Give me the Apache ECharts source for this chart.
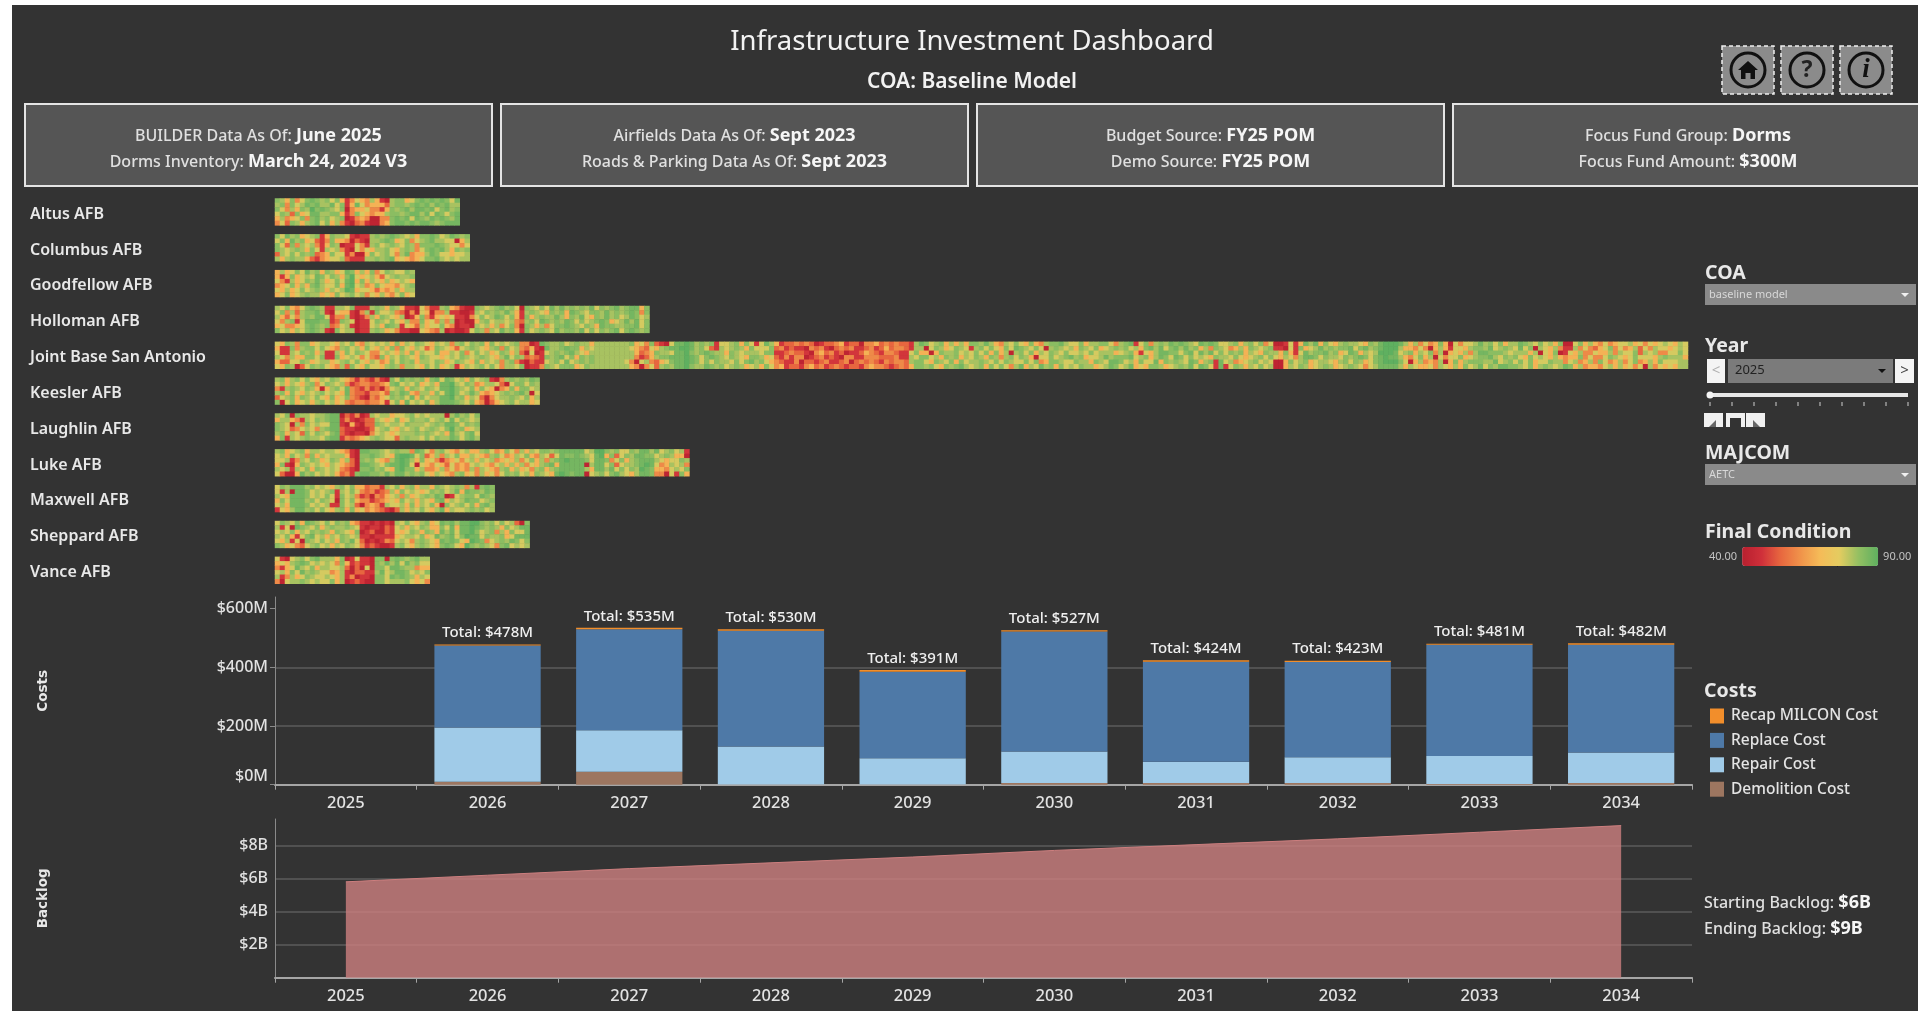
<!DOCTYPE html>
<html><head><meta charset="utf-8"><title>Infrastructure Investment Dashboard</title>
<style>html,body{margin:0;padding:0;background:#fff}#c{width:1918px;height:1011px}</style>
<script src="https://cdn.jsdelivr.net/npm/echarts@6/dist/echarts.min.js"></script></head>
<body><div id="c"></div>
<script>
// ---- data ----
const years = ['2025','2026','2027','2028','2029','2030','2031','2032','2033','2034'];
const demolitionCost = [null,10,44,1,1,6,6,6,2,6];
const repairCost = [null,185,142,129,89,107,72,88,96,104];
const replaceCost = [null,280,344,395,295,409,341,324,379,367];
const recapMilconCost = [null,3,5,5,6,5,5,5,4,5];
const totalCost = [null,478,535,530,391,527,424,423,481,482];
const backlog = [5.8,6.2,6.6,6.95,7.3,7.7,8.05,8.4,8.8,9.2];
const costTicks = [0,200,400,600];
const bases = ['Altus AFB','Columbus AFB','Goodfellow AFB','Holloman AFB','Joint Base San Antonio','Keesler AFB','Laughlin AFB','Luke AFB','Maxwell AFB','Sheppard AFB','Vance AFB'];
// per-facility Final Condition, estimated by eye: each digit is one cell, looked up in conditionKey
const conditionKey = [42,48,54,60,67,77,81,84,87,90];
const altus = [
"7647357876 7574135436 4106774578 7878758",
"6737568786 6857148534 4426776787 8687866",
"7536476978 7657034453 3147678688 7857867",
"5762745886 6774137543 4467767886 8587578",
"4634573786 7567013430 0337878587 6878768",
"3527646785 7463102310 0347887878 8767888"];
const columbus = [
"7586745671 4766510116 7678765647 787568767",
"5748674521 3744302106 6787457356 786655046",
"7527365631 4760115316 7567657637 778765535",
"7656764751 6563105354 6675467635 787864767",
"2657576723 4755130047 5675368344 687554556",
"6467664213 4556211166 7678454345 778656566"];
const goodfellow = [
"4645758674 7645874647 35765576",
"4147456587 5764795456 42567667",
"5316457686 4575894746 54645654",
"3457464786 5574895634 75443567",
"5464575676 4656984554 24346466",
"4574567664 5475675635 46435745"];
const holloman = [
"6574357876 1166571116 7647641105 3116743100 7656786750 7657586867 6768576786 78847",
"5736267786 1054410361 7556320305 4033611001 6576768641 6765476748 7657768676 78737",
"6425367688 5133610136 4765460147 3145451103 5756875741 7467668647 6854768675 68756",
"5367158887 7127650115 7657546337 4536360100 4675665632 6758767687 5756787456 86857",
"4533457876 7235610115 6487615426 4557430110 6564635730 7646357787 6576487766 77857",
"7564657876 1075660116 7645311005 4326010015 7636586741 7567658677 6857576785 78767"];
const jbsa = [
"5476377456 6546574365 6564746576 5465636757 6747565673 3018766756 7664666666 6745372105 8898676715 5674751586 4122323201 2234122033 4232322168 7567464647 7686436575 4743677865 5746677536 7815736768 7876587875 5674675735 0015148684 7546766547 6899986463 5347405355 6867574668 7657564700 5746435345 5645354565 465",
"4117367757 5436756475 4647375465 2476542567 6546737563 2410866787 7465666666 6543254678 8998675216 5676475557 2312110323 1023231123 1242332166 0576457651 6757547587 6575067656 4765745676 7564786857 8686746376 5346476567 1105174568 6767785786 7899964435 3046415546 7768567658 5706546311 6353245735 3462536554 565",
"5116576746 1164757653 3565464746 5574465735 7564576462 0501567678 6546666666 6642347665 8897678766 4765666577 1123221034 2312011243 2133211574 4047667565 7574746067 5746576575 5657566645 6741546887 7578586857 5767465476 6474158677 8674587465 6999856746 5736045463 6887776566 6460547015 4633544636 5572656335 575",
"6536447757 1174565353 2746576547 6554565765 6765468576 2321767857 4767666666 6631246778 8898757876 5765477645 2131330123 1210331133 3222311657 7564767465 7647636757 6405575678 6745568677 7856746875 8757565476 6575456757 5465368875 7665767875 7898864357 4605355745 6778657675 4756546434 4735335765 4575554676 664",
"4225576456 6456757546 5347576746 6576457654 7465636731 0211567585 6767666666 5305632457 8898757576 6575786754 3211302212 3112302323 2132332677 5476574756 6765757655 7573477655 7664765887 5647558476 7658746718 5634567565 0047567456 6546757645 7899975046 3436047467 7766856757 5745576635 6346375346 3573464755 566",
"5476025767 5436275475 5467636654 7574561465 6757536657 0113765777 4576666666 6430352676 8897668767 5676456475 3412213423 1232122134 3321232477 6754767865 6747575368 4658674756 5766456875 6845477645 6768587518 1576465756 0046576456 7645676535 6888864654 4536546475 6857688776 5746765687 4634435646 4535063545 466"];
const keesler = [
"6746757546 5765431321 3107586767 4785875647 5671036767 687",
"5646546735 7656312332 2347856574 5648896576 3466520577 576",
"3167657640 4675832131 2035674765 7658897657 4754034747 756",
"6747546567 5654832213 3427687436 6475897568 6434567678 605",
"2567476575 4745732103 2457675847 5668896746 5203566765 746",
"7057456467 5645323323 3415748565 7468887657 4302456756 645"];
const laughlin = [
"6570766566 7880213016 5664556756 5666068675 7",
"4664316576 7881310122 6545745766 7567585765 6",
"7650637565 5881041022 7656657666 5676887576 7",
"7652356536 7882110012 5675465675 6765796745 6",
"6746527576 5782101103 5654566676 7656486578 5",
"4716567665 7881323456 7655267665 7576687578 6"];
const luke = [
"6745674665 6654310887 7656766387 5367543564 4675347536 4657767888 8856997675 5768868567 561",
"5647563746 5666410778 7654899857 2463657446 5436753465 7436525877 8765894725 7688775676 440",
"5561365764 5764620767 5436898647 4531345356 4656345463 5746367898 8875887357 4678886545 576",
"4710476565 4654320887 6578898505 4354253435 6543564646 3546784888 8806885725 6678985346 563",
"6561657476 5653210778 6754897746 3346353436 3654367464 5367467888 8864886857 5769874435 657",
"5200486756 5642317887 7686886767 5465436745 3645357675 6476548987 8805675786 5468873305 174"];
const maxwell = [
"5768886756 5467574423 3165746746 6476567636 1787",
"5160887565 6716575323 1236475654 5767568487 7687",
"6548887565 7517563120 3245636456 7687015677 5876",
"4758886757 6507574331 2345475646 5478465687 7567",
"5648887565 6117562034 3165564746 5740756757 4786",
"1546886757 5467474534 3210264657 5468465567 6756"];
const sheppard = [
"5765748765 7576743110 1010657546 7458786889 9767575620 7",
"6150876574 6766765101 1021564657 6447584889 8767647568 8",
"5657465767 6476547012 0021545764 7648685889 7567364755 8",
"6574157856 4657656110 1111456657 4586785798 8576674588 8",
"5461507657 5647685201 0132565367 6548787549 8735676875 7",
"7645325675 6465765312 1001675467 6547875497 6765378565 6"];
const vance = [
"5105675786 6647015110 7707876786 6",
"4546787565 6537412110 7686858675 5",
"3145865746 6556202050 7758876634 4",
"5647586765 5346102211 6856887565 7",
"6136457655 6546130110 7758787646 5",
"3056676565 5746012100 7756667545 3"];
const baseCells = [altus,columbus,goodfellow,holloman,jbsa,keesler,laughlin,luke,maxwell,sheppard,vance];

// ---- chart assembly ----
const SUB = 8, COLS = 283;
const heatData = [];
baseCells.forEach((rows,b)=>rows.forEach((row,r)=>{
  row.replace(/ /g,'').split('').forEach((d,c)=>heatData.push([c,b*SUB+r,conditionKey[+d]]));
}));
const yCats = [];
bases.forEach(n=>{for(let i=0;i<SUB;i++)yCats.push(i===3?n:'')});
const xCats = Array.from({length:COLS},(_,i)=>String(i));

const F = '"Noto Sans"';
const txt = (x,y,t,size,o={})=>({type:'text',x,y,silent:true,style:Object.assign({text:t,fill:'#e8e8e8',font:`${o.w||400} ${size}px ${F}`,align:o.a||'left',verticalAlign:'middle'},o.s||{})});
const rich2 = (x,y,a,b,o={})=>({type:'text',x,y,silent:true,style:{text:`{a|${a}}{b|${b}}`,align:o.a||'center',verticalAlign:'middle',
  rich:{a:{fontFamily:F,fontSize:16,fontWeight:500,fill:'#e0e0e0',color:'#e0e0e0'},b:{fontFamily:F,fontSize:18,fontWeight:700,fill:'#f6f6f6',color:'#f6f6f6'}}}});
const rect = (x,y,w,h,fill,o={})=>({type:'rect',silent:true,shape:{x,y,width:w,height:h},style:Object.assign({fill},o)});
const poly = (pts,fill)=>({type:'polygon',silent:true,shape:{points:pts},style:{fill}});
const box = (x,w,l1a,l1b,l2a,l2b)=>[
  rect(x,104,w,82,'#555555',{stroke:'#e4e4e4',lineWidth:2}),
  rich2(x+w/2,136,l1a,l1b), rich2(x+w/2,162,l2a,l2b)];
const btn = (x)=>[rect(x,46,52,48,'#8b8b8b',{stroke:'#f0f0f0',lineWidth:1.5,lineDash:[4,3]}),
  {type:'circle',silent:true,shape:{cx:x+26,cy:70,r:17},style:{fill:'#8b8b8b',stroke:'#111',lineWidth:3}}];
const dropdown = (y,label)=>[rect(1705,y,211,21,'#8a8a8a'),txt(1709,y+11,label,11,{s:{fill:'#d8d8d8'}}),
  poly([[1901,y+9],[1909,y+9],[1905,y+13]],'#f0f0f0')];
const sliderTicks = [];
for(let i=0;i<10;i++) sliderTicks.push(rect(1710+22*i-0.5,402,1,4,'#cfcfcf'));

const graphic = [
  rect(0,0,1918,5,'#ffffff'), rect(0,0,12,1011,'#ffffff'),
  txt(972,42,'Infrastructure Investment Dashboard',27.5,{a:'center',s:{fill:'#f2f2f2'}}),
  txt(972,82,'COA: Baseline Model',21,{a:'center',w:600,s:{fill:'#f2f2f2'}}),
  ...box(25,467,'BUILDER Data As Of: ','June 2025','Dorms Inventory: ','March 24, 2024 V3'),
  ...box(501,467,'Airfields Data As Of: ','Sept 2023','Roads & Parking Data As Of: ','Sept 2023'),
  ...box(977,467,'Budget Source: ','FY25 POM','Demo Source: ','FY25 POM'),
  ...box(1453,470,'Focus Fund Group: ','Dorms','Focus Fund Amount: ','$300M'),
  ...btn(1722),
  poly([[1748,61],[1758,70],[1755,70],[1755,79],[1750.5,79],[1750.5,73],[1745.5,73],[1745.5,79],[1741,79],[1741,70],[1738,70]],'#111'),
  ...btn(1781), txt(1807,70,'?',23,{a:'center',w:700,s:{fill:'#222'}}),
  ...btn(1840), {type:'text',x:1866,y:70,silent:true,style:{text:'i',font:'italic 700 27px "Liberation Serif"',fill:'#111',align:'center',verticalAlign:'middle'}},
  txt(1705,273,'COA',19.5,{w:700}),
  ...dropdown(284,'baseline model'),
  txt(1705,346,'Year',19.5,{w:700}),
  rect(1707,359,18,24,'#f4f4f4'), txt(1716,371,'<',15,{a:'center',s:{fill:'#b0b0b0'}}),
  rect(1728,359,165,24,'#7b7b7b'), txt(1735,370,'2025',13,{s:{fill:'#222222'}}),
  poly([[1878,369],[1886,369],[1882,373]],'#111'),
  rect(1895,359,19,24,'#f4f4f4'), txt(1904.5,371,'>',15,{a:'center',s:{fill:'#444'}}),
  rect(1710,393,198,4,'#e8e8e8'),
  {type:'circle',silent:true,shape:{cx:1710,cy:395,r:3.5},style:{fill:'#f4f4f4'}},
  ...sliderTicks,
  rect(1704,413,19,14,'#f0f0f0'), poly([[1709,427],[1716,420],[1716,427]],'#666'),
  rect(1726,413,19,14,'#f0f0f0'), rect(1730,418,11,9,'#333'),
  rect(1746,413,19,14,'#f0f0f0'), poly([[1753,420],[1760,427],[1753,427]],'#666'),
  txt(1705,453,'MAJCOM',19.5,{w:700}),
  ...dropdown(464,'AETC'),
  txt(1705,532,'Final Condition',19.5,{w:700}),
  rect(1837,563,1,4,'#222'),
  txt(1704,691,'Costs',19.5,{w:700}),
  rich2(1704,903,'Starting Backlog: ','$6B',{a:'left'}),
  rich2(1704,929,'Ending Backlog: ','$9B',{a:'left'})
];

const xAxisFor = (gi)=>({type:'category',gridIndex:gi,data:years,
  axisLine:{lineStyle:{color:'#a6a6a6',width:2}},axisTick:{show:true,length:5,lineStyle:{color:'#a6a6a6'}},
  axisLabel:{color:'#e2e2e2',fontFamily:F,fontSize:16.5,fontWeight:500,margin:10},splitLine:{show:false}});
const gridLine = {show:true,showMaxLine:false,lineStyle:{color:'#5c5c5c',width:1.5}};
const yTitle = {color:'#e8e8e8',fontFamily:'"DejaVu Sans"',fontWeight:'bold',fontSize:13.5};

const stackBar = (name,data,color,extra)=>Object.assign({name,type:'bar',stack:'cost',xAxisIndex:1,yAxisIndex:1,data,barWidth:'75%',
  itemStyle:{color},emphasis:{disabled:true},z:3},extra||{});

const option = {
  backgroundColor:'#333333', animation:false,
  textStyle:{fontFamily:F},
  grid:[
    {left:275,top:198.5,width:1413,height:394.2},
    {left:275,top:597,width:1417,height:187.7},
    {left:275,top:819,width:1417,height:158.7}
  ],
  xAxis:[
    {type:'category',gridIndex:0,data:xCats,show:false},
    xAxisFor(1),xAxisFor(2)
  ],
  yAxis:[
    {type:'category',gridIndex:0,data:yCats,inverse:true,axisLine:{show:false},axisTick:{show:false},
      axisLabel:{interval:0,color:'#e8e8e8',fontFamily:F,fontWeight:600,fontSize:16,align:'left',margin:245}},
    {type:'value',gridIndex:1,min:0,max:640,interval:200,name:'Costs',nameLocation:'middle',nameGap:225,nameRotate:90,nameTextStyle:yTitle,
      axisLine:{show:true,lineStyle:{color:'#8a8a8a'}},
      axisTick:{show:true,length:5,customValues:costTicks,lineStyle:{color:'#8a8a8a'}},
      axisLabel:{color:'#e2e2e2',fontFamily:F,fontSize:16,fontWeight:500,margin:7,customValues:costTicks,verticalAlignMinLabel:'bottom',
        formatter:v=>'$'+v+'M'},
      splitLine:gridLine},
    {type:'value',gridIndex:2,min:0,max:9.6,interval:2,name:'Backlog',nameLocation:'middle',nameGap:225,nameRotate:90,nameTextStyle:yTitle,
      axisLine:{show:true,lineStyle:{color:'#8a8a8a'}},axisTick:{show:false},
      axisLabel:{color:'#e2e2e2',fontFamily:F,fontSize:16,fontWeight:500,margin:7,showMinLabel:false,showMaxLabel:false,formatter:v=>'$'+v+'B'},
      splitLine:gridLine}
  ],
  visualMap:{type:'continuous',seriesIndex:0,dimension:2,min:40,max:90,orient:'horizontal',left:1694,top:532,
    itemWidth:19,itemHeight:136,calculable:false,hoverLink:false,text:['90.00','40.00'],textGap:5,
    textStyle:{color:'#c4c4c4',fontFamily:F,fontSize:11},
    inRange:{color:['#b8202f','#cf2f3a','#e8683f','#f0934a','#f5bb58','#e4cc60','#93bf62','#5fb060']}},
  legend:{orient:'vertical',left:1705,top:703,itemWidth:14,itemHeight:15,itemGap:8.4,icon:'rect',selectedMode:false,
    textStyle:{color:'#e4e4e4',fontFamily:F,fontSize:15.5,fontWeight:500,padding:[0,0,0,2]},
    data:['Recap MILCON Cost','Replace Cost','Repair Cost','Demolition Cost']},
  series:[
    {type:'heatmap',xAxisIndex:0,yAxisIndex:0,data:heatData,progressive:0,itemStyle:{borderWidth:0},emphasis:{disabled:true}},
    stackBar('Demolition Cost',demolitionCost,'#9d7660'),
    stackBar('Repair Cost',repairCost,'#a0cbe8'),
    stackBar('Replace Cost',replaceCost,'#4e79a7'),
    stackBar('Recap MILCON Cost',recapMilconCost,'#f28e2b',{label:{show:true,position:'top',distance:4,color:'#efefef',fontFamily:F,fontSize:15,fontWeight:500,
      formatter:p=>totalCost[p.dataIndex]==null?'':'Total: $'+totalCost[p.dataIndex]+'M'}}),
    {name:'Backlog',type:'line',xAxisIndex:2,yAxisIndex:2,data:backlog,symbol:'none',
      lineStyle:{color:'#cd7f7f',width:1},areaStyle:{color:'#cd7f7f',opacity:0.8},emphasis:{disabled:true},z:3}
  ],
  graphic
};
const chart = echarts.init(document.getElementById('c'),null,{renderer:'canvas'});
chart.setOption(option);
</script></body></html>
